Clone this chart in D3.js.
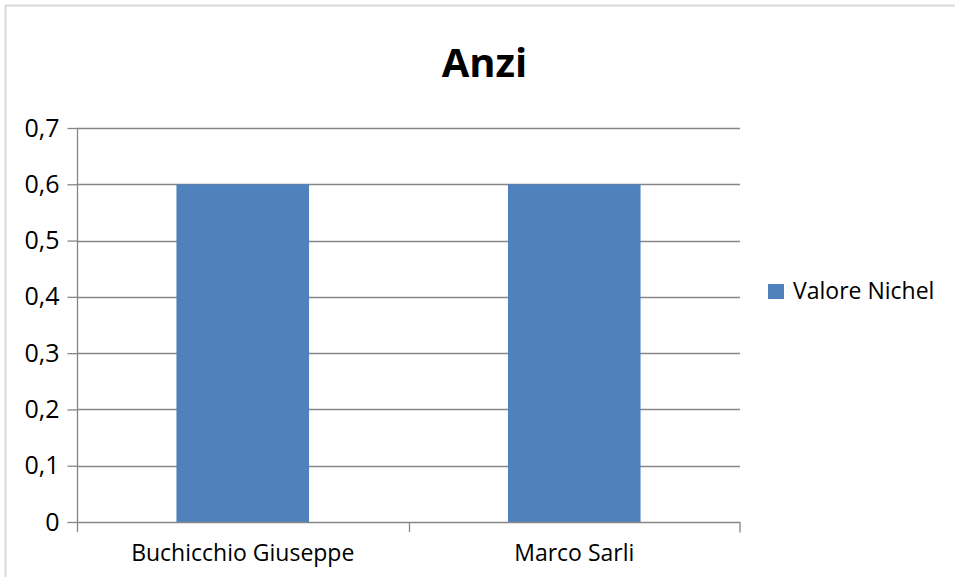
<!DOCTYPE html>
<html>
<head>
<meta charset="utf-8">
<script src="https://cdn.jsdelivr.net/npm/d3@7"></script>
<style>
html,body{margin:0;padding:0;background:#fff;}
svg{display:block;}
text{font-family:"Open Sans",sans-serif;fill:#000;}
</style>
</head>
<body>
<svg id="chart" width="955" height="577"></svg>
<script>
const title = "Anzi";
const categories = ["Buchicchio Giuseppe", "Marco Sarli"];
const seriesName = "Valore Nichel";
const values = [0.6, 0.6];
const yTicks = [0, 0.1, 0.2, 0.3, 0.4, 0.5, 0.6, 0.7];
const yTickLabels = ["0", "0,1", "0,2", "0,3", "0,4", "0,5", "0,6", "0,7"];

const svg = d3.select("#chart");
const W = 955, H = 577;
const plot = {left: 77, right: 740, top: 128, bottom: 522};
const gridColor = "#868686";
const barColor = "#4F81BD";

// outer border
svg.append("rect").attr("x", 5.5).attr("y", 5.5).attr("width", W + 10).attr("height", H + 10)
  .attr("fill", "#fff").attr("stroke", "#d9d9d9").attr("stroke-width", 2);

const x = d3.scaleBand().domain(categories).range([plot.left, plot.right]).padding(0);
const y = d3.scaleLinear().domain([0, 0.7]).range([plot.bottom, plot.top]);

// gridlines
svg.append("g").selectAll("line").data(yTicks.filter(d => d > 0)).join("line")
  .attr("x1", plot.left).attr("x2", plot.right)
  .attr("y1", d => Math.round(y(d)) + 0.5).attr("y2", d => Math.round(y(d)) + 0.5)
  .attr("stroke", gridColor).attr("stroke-width", 1.3);

// bars
const bw = x.bandwidth() * 0.4;
svg.append("g").selectAll("rect").data(values).join("rect")
  .attr("x", (d, i) => x(categories[i]) + x.bandwidth() / 2 - bw / 2)
  .attr("width", bw)
  .attr("y", d => y(d))
  .attr("height", d => y(0) - y(d))
  .attr("fill", barColor);

// y axis
const yAxis = d3.axisLeft(y).tickValues(yTicks).tickSize(10).tickPadding(8)
  .tickFormat((d, i) => yTickLabels[i]);
const gy = svg.append("g").attr("transform", `translate(${plot.left + 0.5},0)`).call(yAxis);
gy.select(".domain").attr("stroke", gridColor).attr("stroke-width", 1.3)
  .attr("d", `M0,${plot.top}V${plot.bottom + 10}`);
gy.selectAll(".tick line").attr("stroke", gridColor).attr("stroke-width", 1.3);
gy.selectAll(".tick text").style("font-size", "25px").style("font-family", "'Open Sans',sans-serif").attr("fill", "#000");

// x axis
const xAxis = d3.axisBottom(x).tickSize(0).tickPadding(22);
const gx = svg.append("g").attr("transform", `translate(0,${plot.bottom + 0.5})`).call(xAxis);
gx.select(".domain").attr("stroke", gridColor).attr("stroke-width", 1.3)
  .attr("d", `M${plot.left},0H${plot.right}V10`);
gx.selectAll(".tick text").style("font-size", "23px").style("font-family", "'Open Sans',sans-serif").attr("fill", "#000");
// category boundary tick marks
svg.append("g").selectAll("line").data(categories.slice(1)).join("line")
  .attr("x1", d => Math.round(x(d)) + 0.5).attr("x2", d => Math.round(x(d)) + 0.5)
  .attr("y1", plot.bottom).attr("y2", plot.bottom + 10)
  .attr("stroke", gridColor).attr("stroke-width", 1.3);

// title
svg.append("text").attr("x", (plot.left + plot.right) / 2 + 76).attr("y", 77)
  .attr("text-anchor", "middle").style("font-size", "40px").style("font-weight", "bold").text(title);

// legend
const lg = svg.append("g").attr("transform", "translate(768,284)");
lg.append("rect").attr("width", 16).attr("height", 15).attr("fill", barColor);
lg.append("text").attr("x", 25).attr("y", 14.5).style("font-size", "23px").text(seriesName);
</script>
</body>
</html>
